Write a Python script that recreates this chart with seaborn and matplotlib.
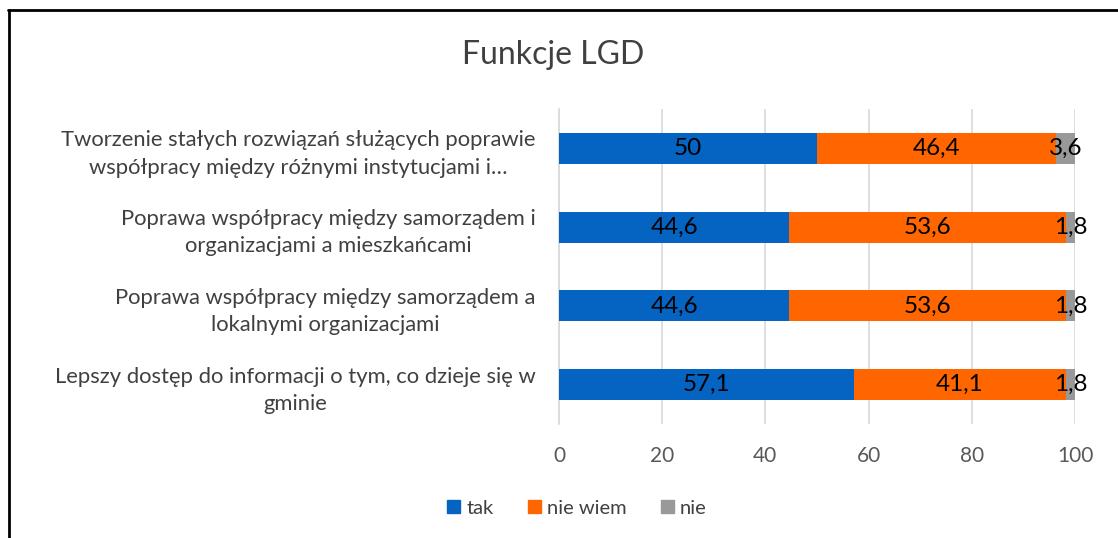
import matplotlib

matplotlib.use("Agg")
import matplotlib.pyplot as plt
import matplotlib.lines as mlines
import matplotlib.patches as mpatches
import numpy as np
import pandas as pd
import seaborn as sns

categories = [
    "Tworzenie stałych rozwiązań służących poprawie\nwspółpracy między różnymi instytucjami i…",
    "Poprawa współpracy między samorządem i\norganizacjami a mieszkańcami",
    "Poprawa współpracy między samorządem a\nlokalnymi organizacjami",
    "Lepszy dostęp do informacji o tym, co dzieje się w\ngminie",
]
tak = [50.0, 44.6, 44.6, 57.1]
nie_wiem = [46.4, 53.6, 53.6, 41.1]
nie = [3.6, 1.8, 1.8, 1.8]

series_names = ["tak", "nie wiem", "nie"]
colors = ["#0563C1", "#FF6600", "#999999"]

sns.set_theme(style="white")
plt.rcParams["font.family"] = ["Lato", "DejaVu Sans"]

df = pd.DataFrame({"kategoria": categories, "tak": tak, "nie wiem": nie_wiem, "nie": nie})
df["c1"] = df["tak"]
df["c2"] = df["tak"] + df["nie wiem"]
df["c3"] = df["c2"] + df["nie"]

fig = plt.figure(figsize=(11.18, 5.38), dpi=100)
ax = fig.add_axes([559 / 1118, 1 - 424 / 538, (1075 - 559) / 1118, (424 - 109) / 538])

# stacked bars drawn as overlapping cumulative totals
for col, color in zip(["c3", "c2", "c1"], colors[::-1]):
    sns.barplot(data=df, y="kategoria", x=col, color=color, orient="h",
                width=0.395, saturation=1, linewidth=0, ax=ax, zorder=3)

# value labels centred in each segment
starts = np.zeros(len(categories))
for vals in [tak, nie_wiem, nie]:
    vals = np.array(vals)
    for i, (s, v) in enumerate(zip(starts, vals)):
        ax.text(s + v / 2, i, f"{v:g}".replace(".", ","), ha="center", va="center",
                fontsize=17.5, color="black", zorder=5)
    starts = starts + vals

ax.set_xlim(0, 100)
ax.set_ylim(3.5, -0.5)
ax.set_xticks(range(0, 101, 20))
ax.set_xlabel("")
ax.set_ylabel("")
ax.xaxis.grid(True, color="#D9D9D9", linewidth=1.2, zorder=0)
ax.set_axisbelow(True)
for side in ["top", "right", "bottom"]:
    ax.spines[side].set_visible(False)
ax.spines["left"].set_color("#D9D9D9")
ax.spines["left"].set_linewidth(1.2)
ax.tick_params(axis="x", length=0, labelsize=15, labelcolor="#595959", pad=16)
ax.tick_params(axis="y", length=0, labelsize=15.8, labelcolor="#404040", pad=17)
for lbl in ax.get_yticklabels():
    lbl.set_multialignment("center")
    lbl.set_linespacing(1.45)

fig.text(553 / 1118, 1 - 55 / 538, "Funkcje LGD", ha="center", va="center",
         fontsize=23, color="#404040")

handles = [mpatches.Patch(color=c, label=n) for c, n in zip(colors, series_names)]
fig.legend(handles=handles, loc="center", bbox_to_anchor=(577 / 1118, 1 - 508 / 538),
           ncol=3, frameon=False, fontsize=14.5, handlelength=0.65, handleheight=0.65,
           handletextpad=0.3, columnspacing=1.7, labelcolor="#404040")

# chart-area border (left and top edges visible)
fig.add_artist(mlines.Line2D([9 / 1118, 9 / 1118], [0, 1 - 10 / 538],
                             transform=fig.transFigure, color="black", linewidth=2))
fig.add_artist(mlines.Line2D([8 / 1118, 1], [1 - 10 / 538, 1 - 10 / 538],
                             transform=fig.transFigure, color="black", linewidth=2))

fig.savefig("out.png", dpi=100)
plt.close()
